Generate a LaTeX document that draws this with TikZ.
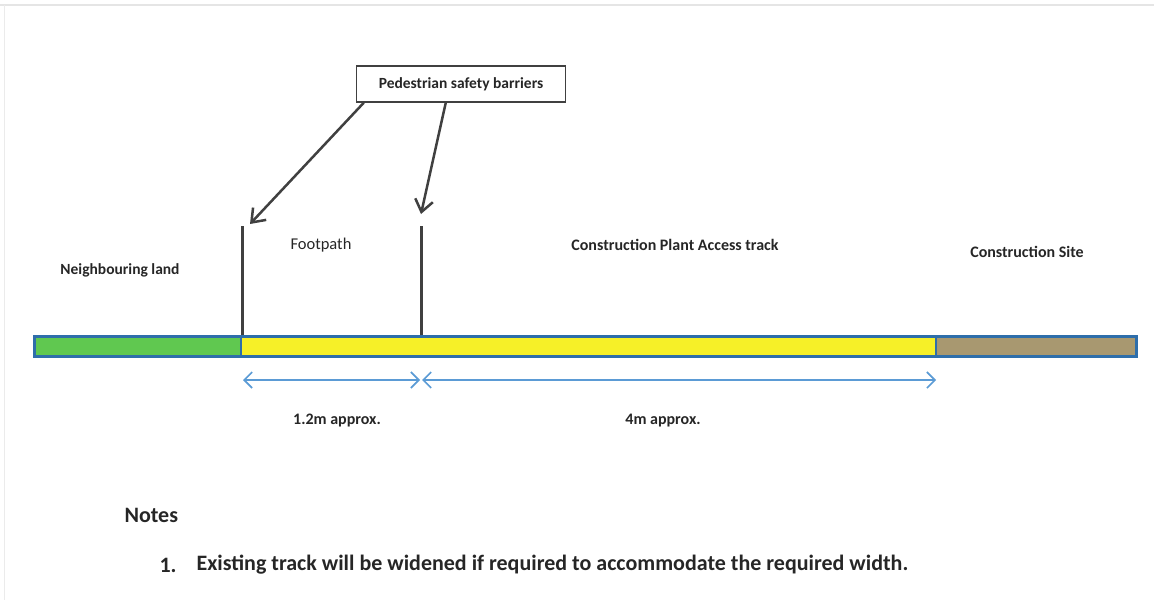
\documentclass[tikz,border=0pt]{standalone}
\usepackage{fontspec}
\setmainfont{Carlito}
\usetikzlibrary{arrows.meta}
\definecolor{edgeblue}{RGB}{46,110,170}
\definecolor{dimblue}{RGB}{91,155,213}
\definecolor{landgreen}{RGB}{96,200,80}
\definecolor{trackyellow}{RGB}{246,240,40}
\definecolor{sitetan}{RGB}{168,152,112}
\definecolor{barrier}{RGB}{64,64,64}
\tikzset{
  lbl/.style={font=\fontsize{16}{18}\selectfont\bfseries, text=black!85},
  notetext/.style={font=\fontsize{22}{24}\selectfont\bfseries, anchor=west, text=black!85},
  barrierline/.style={barrier, line width=3pt},
  pointer/.style={barrier, line width=2.5pt, -{Straight Barb[length=12pt,width=18pt,line width=2.5pt]}},
  dimline/.style={dimblue, line width=1.6pt, {Straight Barb[length=8pt,width=16pt]}-{Straight Barb[length=8pt,width=16pt]}}
}
\begin{document}
\begin{tikzpicture}[x=1pt,y=-1pt]
  \useasboundingbox (0,0) rectangle (1154,602);
  % Rahmen
  \draw[black!10, line width=1.5pt] (0,5) -- (1154,5);
  \draw[black!8, line width=1pt] (4,5) -- (4,600);
  % Streifen
  \fill[landgreen] (34,336) rectangle (241,356);
  \fill[trackyellow] (241,336) rectangle (936,356);
  \fill[sitetan] (936,336) rectangle (1136,356);
  \draw[edgeblue, line width=3pt] (34,336) rectangle (1136,356);
  \draw[edgeblue, line width=2.5pt] (241,336) -- (241,356);
  \draw[edgeblue, line width=2.5pt] (936,336) -- (936,356);
  % Absperrungen
  \coordinate (b1) at (242,226);
  \coordinate (b2) at (421,226);
  \draw[barrierline] (b1) -- (242,335);
  \draw[barrierline] (b2) -- (421,335);
  % Beschriftung
  \node[lbl, font=\fontsize{15.5}{18}\selectfont\bfseries, draw=barrier, line width=1.5pt, fill=white, minimum width=209pt, minimum height=36pt] (callout) at (461,84) {Pedestrian safety barriers};
  \draw[pointer] (callout.south west) ++(8,0) -- ([xshift=8pt,yshift=2pt]b1);
  \draw[pointer] (callout.south west) ++(90,0) -- ([yshift=12pt]b2);
  \node[lbl, font=\fontsize{15.5}{18}\selectfont\bfseries] (nland) at (120,270) {Neighbouring land};
  \node[lbl, font=\fontsize{16.5}{18}\selectfont] (fpath) at (321,245) {Footpath};
  \node[lbl] (track) at (675,245) {Construction Plant Access track};
  \node[lbl] (site) at (1027,252) {Construction Site};
  % Masse
  \coordinate (d1) at (243,380);
  \coordinate (d2) at (420,380);
  \coordinate (d3) at (422,380);
  \coordinate (d4) at (936,380);
  \draw[dimline] (d1) -- (d2);
  \draw[dimline] (d3) -- (d4);
  \node[lbl] (wfoot) at (337,421) {1.2m approx.};
  \node[lbl] (wtrack) at (663,421) {4m approx.};
  % Hinweise
  \node[notetext] (notes) at (121,515) {Notes};
  \node[notetext] (num) at (156,565) {1.};
  \node[notetext] (note1) at (193,565) {Existing track will be widened if required to accommodate the required width.};
\end{tikzpicture}
\end{document}
